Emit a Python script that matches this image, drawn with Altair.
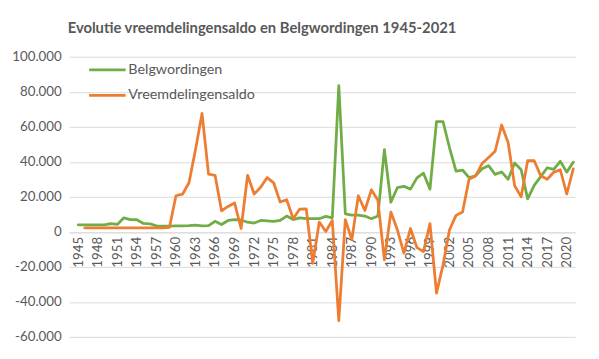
import altair as alt
import pandas as pd

years = list(range(1945, 2022))

belgwordingen = [
    4000, 4000, 4000, 4000, 4000, 4700, 4200, 8000, 7000, 6900,   # 1945-1954
    4800, 4600, 3400, 3300, 3300, 3400, 3400, 3500, 3900, 3400,   # 1955-1964
    3500, 6000, 4200, 6500, 7000, 6800, 5500, 5000, 6500, 6300,   # 1965-1974
    6000, 6500, 9000, 7000, 8000, 7500, 7500, 7500, 8800, 8000,   # 1975-1984
    83500, 10300, 9600, 9600, 9000, 7500, 9000, 46900, 16900, 25300,  # 1985-1994
    26000, 24400, 30800, 33500, 24400, 63000, 63000, 48000, 34700, 35300,  # 1995-2004
    31000, 32000, 36000, 37800, 32800, 34200, 30000, 39300, 35500, 18800,  # 2005-2014
    26500, 31500, 36600, 35700, 40300, 34100, 39800,              # 2015-2021
]

vreemdelingensaldo = [
    None, 2200, 2200, 2200, 2200, 2200, 2200, 2200, 2200, 2200,   # 1945-1954
    2200, 2200, 2200, 2200, 2600, 20600, 21500, 28000, 47000, 67600,  # 1955-1964
    33000, 32300, 12000, 14500, 16500, 1900, 32300, 21600, 25500, 31000,  # 1965-1974
    28000, 17000, 18300, 7500, 13000, 13100, -18000, 5600, 200, 6500,  # 1975-1984
    -50700, 7000, -4500, 20600, 12200, 24000, 18000, -16000, 11300, 1000,  # 1985-1994
    -12200, 1900, -9000, -11300, 4700, -35000, -19000, 1200, 9400, 11300,  # 1995-2004
    30000, 32000, 39000, 42500, 46000, 61000, 51000, 26300, 20000, 40600,  # 2005-2014
    40600, 32000, 30000, 34000, 35500, 21600, 36000,              # 2015-2021
]

series_names = ["Belgwordingen", "Vreemdelingensaldo"]
series_colors = ["#70AD47", "#ED7D31"]
x_tick_years = list(range(1945, 2021, 3))
y_ticks = list(range(-60000, 100001, 20000))

df = pd.DataFrame({"jaar": years, "Belgwordingen": belgwordingen,
                   "Vreemdelingensaldo": vreemdelingensaldo})
long = df.melt(id_vars="jaar", var_name="reeks", value_name="waarde").dropna()

FONT = "Lato"
GREY = "#595959"

chart = alt.Chart(long).mark_line(strokeWidth=2.8, strokeJoin="round", strokeCap="round").encode(
    x=alt.X("jaar:Q",
            scale=alt.Scale(domain=[1943.6, 2021.3], nice=False, zero=False),
            axis=alt.Axis(values=x_tick_years, format="d", labelAngle=270, title=None,
                          grid=False, ticks=False, domain=True, domainColor="#D9D9D9",
                          offset=-106, labelPadding=4, labelFontSize=13.5,
                          labelColor=GREY, labelFont=FONT)),
    y=alt.Y("waarde:Q",
            scale=alt.Scale(domain=[-60000, 100000], nice=False),
            axis=alt.Axis(values=y_ticks, title=None, domain=False, ticks=False,
                          gridColor="#D9D9D9", labelPadding=8, labelFontSize=13.5,
                          labelColor=GREY, labelFont=FONT,
                          labelExpr="(datum.value < 0 ? '-' : '') + replace(format(abs(datum.value), ',d'), ',', '.')")),
    color=alt.Color("reeks:N",
                    scale=alt.Scale(domain=series_names, range=series_colors),
                    legend=alt.Legend(title=None, orient="none", legendX=31.5, legendY=6,
                                      symbolType="M-3.7,0L3.7,0", symbolSize=100,
                                      symbolStrokeWidth=2.8, labelOffset=14,
                                      labelFontSize=14.5, labelColor=GREY, labelFont=FONT,
                                      rowPadding=11, padding=0)),
).properties(
    width=513,
    height=284,
    padding={"left": 62, "top": 47, "right": 16, "bottom": 20},
    autosize=alt.AutoSizeParams(type="none"),
    title=alt.TitleParams("Evolutie vreemdelingensaldo en Belgwordingen 1945-2021",
                          font=FONT, fontSize=15, fontWeight="bold", color=GREY,
                          anchor="middle", dx=-61, offset=14),
).configure_view(stroke=None)

chart.save("out.html", embed_options={"renderer": "svg", "actions": False})
